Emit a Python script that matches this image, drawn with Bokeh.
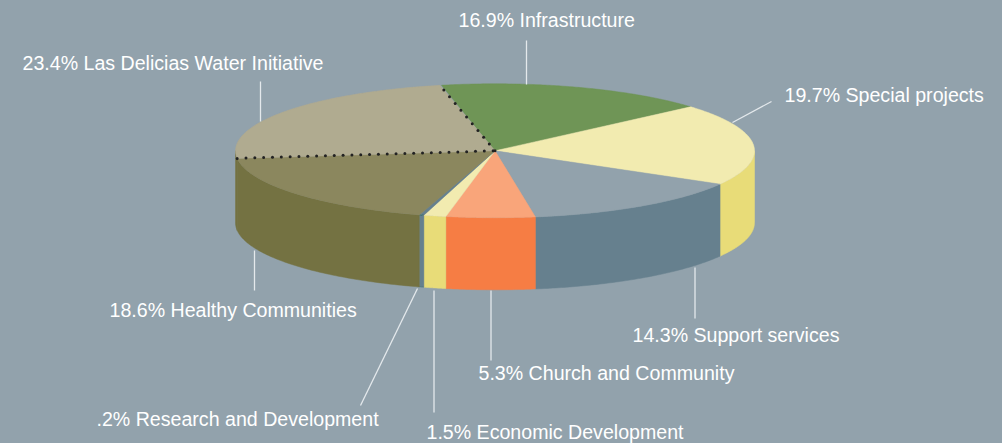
import numpy as np
from bokeh.plotting import figure
from bokeh.embed import file_html
from bokeh.resources import INLINE
from bokeh.core.properties import value

# --- data ---
categories = ["Infrastructure", "Special projects", "Support services",
              "Church and Community", "Economic Development",
              "Research and Development", "Healthy Communities",
              "Las Delicias Water Initiative"]
shares = [16.9, 19.7, 14.3, 5.3, 1.5, 0.2, 18.6, 23.4]
share_labels = ["16.9%", "19.7%", "14.3%", "5.3%", "1.5%", ".2%", "18.6%", "23.4%"]

# --- style ---
BG = "#92a2ac"
top_colors = ["#6f9556", "#f2ebb0", "#92a2ac", "#f9a57a", "#f2ebb0", "#66808e", "#8b875e", "#b0ab90"]
side_colors = ["#567a3f", "#e8dc78", "#66808e", "#f67d44", "#e8dc78", "#66808e", "#747242", "#747242"]
CX, CY, RX, RY, DEPTH = 494.5, 150.3, 259.5, 67.0, 72.0
START_DEG = -11.9
# small drawing offsets of the slice boundaries, in degrees (the original's wedges are rounded)
EDGE_NUDGE = [0, 0, 0, -0.3, 0.5, 0.1, 0.42, 0, 0]
FONT_SIZE = "19.6px"
DOT_STEP = 8.83
label_pos = [(458, 19.5), (784, 94.5), (632, 334.5), (478, 372.5), (426, 431.5), (96, 418.5), (109, 309.5), (22, 62.5)]
leaders = [((526, 40), (526, 84)), ((732, 122), (771, 101)), ((694.5, 267), (694.5, 318)),
           ((490.5, 290), (490.5, 360)), ((433.5, 290), (433.5, 412)), ((417, 288), (360, 405)),
           ((254, 250), (254, 290)), ((260, 81), (260, 121))]

# --- geometry from the values ---
def rim(t_deg, dy=0.0):
    t = np.radians(t_deg)
    return CX + RX * np.sin(t), CY - RY * np.cos(t) + dy

edges = START_DEG + np.cumsum([0] + shares) * 3.6 + np.array(EDGE_NUDGE)

p = figure(width=1002, height=443, output_backend="svg", toolbar_location=None,
           x_range=(0, 1002), y_range=(443, 0), min_border=0,
           background_fill_color=BG, border_fill_color=BG, outline_line_color=None)
p.axis.visible = False
p.grid.visible = False

# sides: only the front half (90..270 degrees clockwise from top) can be seen
for i in range(len(shares)):
    a, b = max(edges[i], 90.0), min(edges[i + 1], 270.0)
    if b <= a:
        continue
    ts = np.linspace(a, b, 80)
    xs, ys = rim(ts)
    xb, yb = rim(ts[::-1], DEPTH)
    p.patch(np.r_[xs, xb], np.r_[ys, yb], fill_color=side_colors[i],
            line_color=side_colors[i], line_width=0.5)

# top faces
for i in range(len(shares)):
    ts = np.linspace(edges[i], edges[i + 1], 120)
    xs, ys = rim(ts)
    p.patch(np.r_[CX, xs], np.r_[CY, ys], fill_color=top_colors[i],
            line_color=top_colors[i], line_width=0.5)

# dots along the radii of the last slice
def radial_dots(deg, from_rim):
    xe, ye = rim(deg)
    length = np.hypot(xe - CX, ye - CY)
    d = np.arange(0.0, length, DOT_STEP)
    f = (1 - d / length) if from_rim else d / length
    return CX + (xe - CX) * f, CY + (ye - CY) * f

for deg, from_rim in ((edges[-2], True), (edges[-1], False)):
    xd, yd = radial_dots(deg, from_rim)
    p.scatter(xd, yd, marker="circle", size=3, fill_color="#222222", line_color=None)

# leaders and labels
for (a, b) in leaders:
    p.line([a[0], b[0]], [a[1], b[1]], line_color="#e4e9ec", line_width=1.3)
for c, s, (x, y) in zip(categories, share_labels, label_pos):
    p.text([x], [y], text=[f"{s} {c}"], text_color="#ffffff", text_font=value("Liberation Sans"),
           text_font_size=FONT_SIZE, text_align="left", text_baseline="middle")

html = file_html(p, INLINE)
html = html.replace("<head>", f"<head><style>html,body{{margin:0;padding:0;background:{BG};overflow:hidden}}</style>", 1)
open("out.html", "w").write(html)
